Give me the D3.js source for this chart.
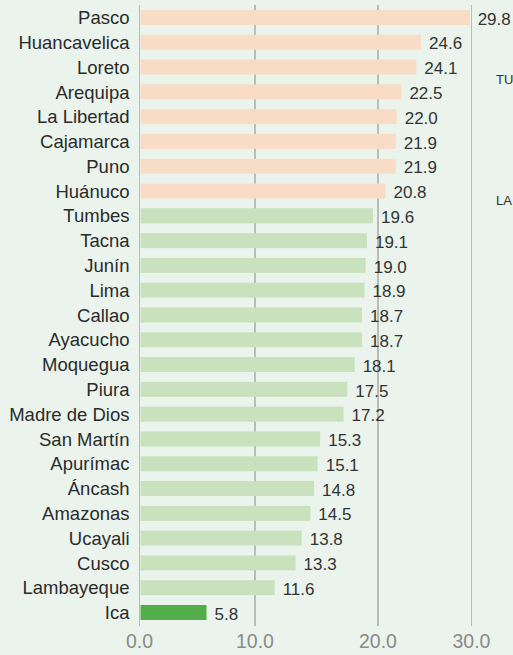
<!DOCTYPE html>
<meta charset="utf-8" />
<style>
    body {
        margin: 0;
        background: #eaf4ec;
    }

    svg {
        display: block;
        font-family: "Liberation Sans", Arial, sans-serif;
    }

    .grid line {
        stroke: #b9bdb9;
        stroke-width: 1.5;
        shape-rendering: crispEdges;
    }
</style>

<body>
    <svg width="513" height="655"></svg>
</body>
<script src="https://d3js.org/d3.v7.min.js"></script>
<script>

    var regions = ["Pasco", "Huancavelica", "Loreto", "Arequipa", "La Libertad", "Cajamarca", "Puno", "Huánuco",
        "Tumbes", "Tacna", "Junín", "Lima", "Callao", "Ayacucho", "Moquegua", "Piura", "Madre de Dios",
        "San Martín", "Apurímac", "Áncash", "Amazonas", "Ucayali", "Cusco", "Lambayeque", "Ica"];
    var values = [29.8, 24.6, 24.1, 22.5, 22.0, 21.9, 21.9, 20.8,
        19.6, 19.1, 19.0, 18.9, 18.7, 18.7, 18.1, 17.5, 17.2,
        15.3, 15.1, 14.8, 14.5, 13.8, 13.3, 11.6, 5.8];
    var ticks = [0, 10, 20, 30];
    var highlight = "Ica";
    // labels of the next panel, at the right edge
    var sideLabels = ["TU", "LA"];

    var svg = d3.select("svg")
    var width = +svg.attr("width")
    var height = +svg.attr("height")

    var data = regions.map(function (r, i) { return { region: r, value: values[i] }; });

    svg.append("rect")
        .attr("width", width)
        .attr("height", height)
        .style("fill", "#eaf4ec");

    // the printed gridlines are not evenly spaced, follow them
    var x = d3.scaleLinear()
        .domain(ticks)
        .range([139.5, 255, 378, 471.5]);

    var y = d3.scaleBand()
        .domain(regions)
        .range([4.5, 625.5])
        .paddingInner(0.395)
        .paddingOuter(0.222);

    function barColor(d) {
        if (d.region === highlight) return "#52ad4a";
        return d.value >= 20 ? "#f9dcc6" : "#c9e2bd";
    }

    //gridlines
    svg.append("g")
        .attr("class", "grid")
        .selectAll("line")
        .data(ticks)
        .enter().append("line")
        .attr("x1", function (d) { return x(d); })
        .attr("x2", function (d) { return x(d); })
        .attr("y1", y.range()[0])
        .attr("y2", y.range()[1]);

    //bars
    svg.append("g")
        .selectAll("rect")
        .data(data)
        .enter().append("rect")
        .attr("x", x(0) + 1)
        .attr("y", function (d) { return y(d.region); })
        .attr("width", function (d) { return x(d.value) - x(0) - 1; })
        .attr("height", y.bandwidth())
        .style("fill", barColor);

    //region names
    svg.append("g")
        .selectAll("text")
        .data(data)
        .enter().append("text")
        .attr("x", 129.5)
        .attr("y", function (d) { return y(d.region) + y.bandwidth() / 2; })
        .attr("dy", "0.36em")
        .style("text-anchor", "end")
        .style("font-size", "18.5px")
        .style("fill", "#2b2b2b")
        .text(function (d) { return d.region; });

    //value labels
    svg.append("g")
        .selectAll("text")
        .data(data)
        .enter().append("text")
        .attr("x", function (d) { return x(d.value) + 8; })
        .attr("y", function (d) { return y(d.region) + y.bandwidth() / 2; })
        .attr("dy", "0.42em")
        .style("font-size", "17px")
        .style("fill", "#333")
        .text(function (d) { return d3.format(".1f")(d.value); });

    //x axis labels
    svg.append("g")
        .selectAll("text")
        .data(ticks)
        .enter().append("text")
        .attr("x", function (d) { return x(d); })
        .attr("y", 648)
        .style("text-anchor", "middle")
        .style("font-size", "19.5px")
        .style("fill", "#8a8a8a")
        .text(function (d) { return d3.format(".1f")(d); });

    svg.append("g")
        .selectAll("text")
        .data(sideLabels)
        .enter().append("text")
        .attr("x", 496)
        .attr("y", function (d, i) { return i == 0 ? 84 : 205; })
        .style("font-size", "13px")
        .style("fill", "#333")
        .text(function (d) { return d; });

</script>
